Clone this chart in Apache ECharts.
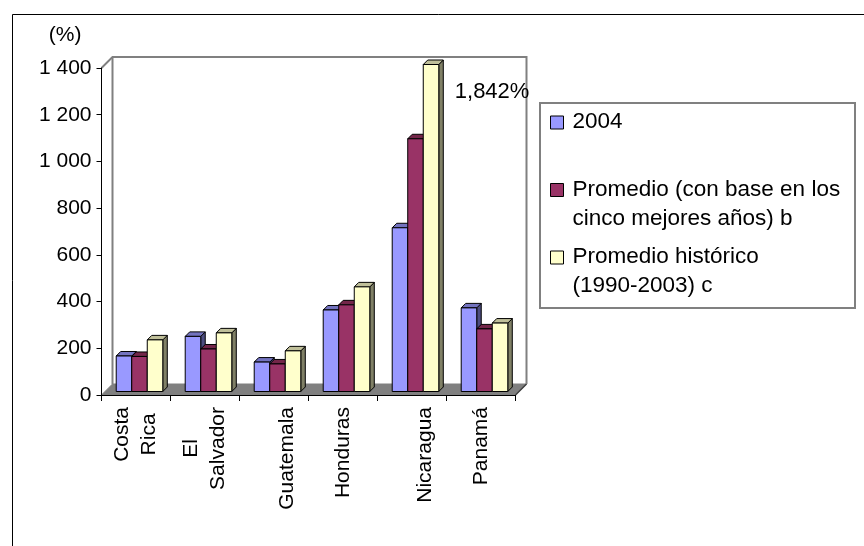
<!DOCTYPE html>
<html>
<head>
<meta charset="utf-8">
<script src="https://cdn.jsdelivr.net/npm/echarts@6/dist/echarts.min.js"></script>
<style>html,body{margin:0;padding:0;background:#fff}#c{width:864px;height:546px}</style>
</head>
<body>
<div id="c"></div>
<script>
const categories = ['Costa\nRica', 'El\nSalvador', '\nGuatemala', 'Honduras', '\nNicaragua', 'Panamá'];
const seriesNames = ['2004', 'Promedio (con base en los\ncinco mejores años) b', 'Promedio histórico\n(1990-2003) c'];
const values2004 = [152, 236, 126, 349, 701, 358];
const valuesPromedio = [150, 182, 118, 371, 1082, 268];
const valuesHistorico = [221, 251, 174, 448, 1842, 293];
const yMin = 0, yMax = 1400, yStep = 200;
const yAxisTitle = '(%)';

const FONT = '"Liberation Sans", Arial, sans-serif';
const frontColors = ['#9999FF', '#993366', '#FFFFCC'];
const sideColors = ['#4D4D80', '#4D1A33', '#808066'];
const topColors = ['#7373BF', '#732649', '#BFBF99'];
const allValues = [values2004, valuesPromedio, valuesHistorico];

function fmtTick(v) {
  return String(v).replace(/\B(?=(\d{3})+$)/g, ' ');
}
function fmtOver(v) {
  return String(v).replace(/\B(?=(\d{3})+$)/g, ',') + '%';
}

function makeBarRenderer(k) {
  return function (params, api) {
    const i = api.value(0), v = api.value(1);
    const catW = api.size([1, 0])[0];
    const base = api.coord([i, yMin]);
    const top = api.coord([i, Math.min(v, yMax)]);
    const w = catW * 0.225, off = 3.5, d = 4.5;
    const x0 = base[0] - 1.5 * w + k * w + off;
    const yb = base[1] - off, yt = top[1] - off;
    const st = { stroke: '#000', lineWidth: 1 };
    const children = [
      { type: 'polygon', shape: { points: [[x0 + w, yt], [x0 + w + d, yt - d], [x0 + w + d, yb - d], [x0 + w, yb]] },
        style: Object.assign({ fill: sideColors[k] }, st) },
      { type: 'polygon', shape: { points: [[x0, yt], [x0 + d, yt - d], [x0 + w + d, yt - d], [x0 + w, yt]] },
        style: Object.assign({ fill: topColors[k] }, st) },
      { type: 'rect', shape: { x: x0, y: yt, width: w, height: yb - yt },
        style: Object.assign({ fill: frontColors[k] }, st) }
    ];
    if (v > yMax) {
      children.push({ type: 'text', x: x0 + w + d + 11.5, y: yt + 27.5,
        style: { text: fmtOver(v), fill: '#000', font: '22px ' + FONT, textVerticalAlign: 'middle' } });
    }
    return { type: 'group', children: children };
  };
}

function renderFrame(params, api) {
  const cs = params.coordSys;
  const x = cs.x, y = cs.y, w = cs.width, h = cs.height, d = 11;
  const yb = y + h;
  const gray = { stroke: '#808080', lineWidth: 2, fill: null };
  return { type: 'group', children: [
    { type: 'polygon', shape: { points: [[x, yb], [x + d, yb - d], [x + w + d, yb - d], [x + w, yb]] },
      style: { fill: '#808080', stroke: '#808080', lineWidth: 1 } },
    { type: 'line', shape: { x1: x + w, y1: yb, x2: x + w + d, y2: yb - d }, style: { stroke: '#404040', lineWidth: 1.5 } },
    { type: 'polyline', shape: { points: [[x, y], [x + d, y - d], [x + w + d, y - d], [x + w + d, yb - d]] }, style: gray },
    { type: 'line', shape: { x1: x + d, y1: y - d, x2: x + d, y2: yb - d }, style: gray }
  ] };
}

const chart = echarts.init(document.getElementById('c'), null, { renderer: 'canvas' });

const series = [{
  type: 'custom', name: '__frame', z: 0, silent: true,
  renderItem: renderFrame, data: [[0, 0]], encode: { x: 0, y: 1 }
}];
seriesNames.forEach(function (n, k) {
  series.push({
    type: 'custom', name: n, z: 2 + k,
    itemStyle: { color: frontColors[k] },
    renderItem: makeBarRenderer(k),
    encode: { x: 0, y: 1 },
    data: allValues[k].map(function (v, i) { return [i, v]; })
  });
});

chart.setOption({
  animation: false,
  backgroundColor: '#fff',
  textStyle: { fontFamily: FONT },
  grid: { left: 101.5, right: 348.5, top: 68, bottom: 151, containLabel: false },
  xAxis: {
    type: 'category', data: categories, z: 10,
    axisLine: { show: true, lineStyle: { color: '#000', width: 1 } },
    axisTick: { show: true, interval: 0, length: 6, lineStyle: { color: '#000' } },
    axisLabel: {
      interval: 0, rotate: 90, margin: 12, color: '#000',
      formatter: function (v) { return v.split('\n').map(function (s) { return '{c|' + s + '}'; }).join('\n'); },
      rich: { c: { align: 'center', fontSize: 21, lineHeight: 27, fontFamily: FONT, color: '#000' } }
    },
    splitLine: { show: false }
  },
  yAxis: {
    type: 'value', min: yMin, max: yMax, interval: yStep, z: 10,
    name: yAxisTitle, nameLocation: 'end', nameGap: 33,
    nameTextStyle: { fontSize: 21, color: '#000', fontFamily: FONT, align: 'right', verticalAlign: 'middle', padding: [0, 20, 0, 0] },
    axisLine: { show: true, lineStyle: { color: '#000', width: 1 } },
    axisTick: { show: true, length: 5, lineStyle: { color: '#000' } },
    axisLabel: { fontSize: 21, color: '#000', margin: 10, fontFamily: FONT, formatter: fmtTick },
    splitLine: { show: false }
  },
  legend: {
    orient: 'vertical', left: 550, top: 107.5, padding: 0, itemGap: 9.5,
    itemWidth: 17, itemHeight: 41,
    icon: 'path://M0,0h13v13h-13z M17,41',
    textStyle: { fontSize: 22.5, lineHeight: 29, color: '#000', fontFamily: FONT },
    formatter: function (n) { return n.indexOf('\n') < 0 ? n + '\n ' : n; },
    data: seriesNames.map(function (n, k) {
      return { name: n, itemStyle: { color: frontColors[k], borderColor: '#000', borderWidth: 1 } };
    })
  },
  graphic: [
    { type: 'rect', z: -10, silent: true, shape: { x: 12.5, y: 14.5, width: 900, height: 600 },
      style: { fill: null, stroke: '#000', lineWidth: 1 } },
    { type: 'rect', z: -5, silent: true, shape: { x: 540, y: 103, width: 315, height: 205 },
      style: { fill: '#fff', stroke: '#808080', lineWidth: 2 } }
  ],
  series: series
});
</script>
</body>
</html>
